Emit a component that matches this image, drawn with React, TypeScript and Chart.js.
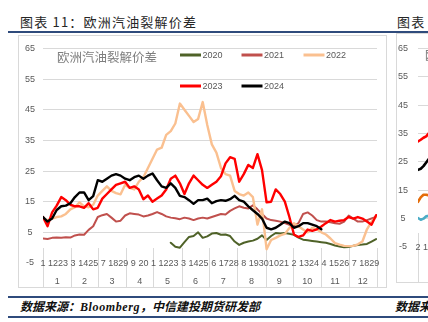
import React, { useEffect, useRef } from 'react';
import { Chart, registerables } from 'chart.js';

Chart.register(...registerables);

// ---------- data (main chart: European gasoline crack spread by year) ----------
// x = day of year (0 = 1 Jan), sampled every 5 days
const DAYS = [
  0, 5, 10, 15, 20, 25, 30, 35, 40, 45,
  50, 55, 60, 65, 70, 75, 80, 85, 90, 95,
  100, 105, 110, 115, 120, 125, 130, 135, 140, 145,
  150, 155, 160, 165, 170, 175, 180, 185, 190, 195,
  200, 205, 210, 215, 220, 225, 230, 235, 240, 245,
  250, 255, 260, 265, 270, 275, 280, 285, 290, 295,
  300, 305, 310, 315, 320, 325, 330, 335, 340, 345,
  350, 355, 360, 365,
];

const S2020 = [
  null, null, null, null, null, null, null, null, null, null,
  null, null, null, null, null, null, null, null, null, null,
  null, null, null, null, null, null, null, null, 1.6, 0.3,
  0.0, 1.8, 3.5, 3.8, 5.0, 3.2, 3.7, 4.6, 4.8, 4.2,
  4.3, 3.8, 2.0, 0.9, 1.6, 2.0, 2.3, 2.9, 4.0, 2.5,
  3.8, 4.8, 4.6, 4.8, 4.5, 4.2, 3.3, 2.6, 2.4, 2.2,
  2.0, 1.8, 1.6, 1.2, 0.7, 0.4, 0.1, 0.2, 0.6, 0.9,
  1.0, 1.2, 2.0, 2.8,
];

const S2021 = [
  3.0, 2.8, 3.2, 3.3, 3.2, 3.4, 3.3, 4.0, 4.3, 4.2,
  5.8, 7.0, 10.0, 10.6, 11.0, 9.8, 8.5, 8.8, 10.5, 11.2,
  11.0, 10.8, 10.2, 10.5, 11.0, 11.6, 11.0, 10.2, 9.8, 9.6,
  9.3, 9.8, 9.5, 9.0, 9.5, 9.8, 9.5, 10.0, 10.5, 11.0,
  10.8, 12.0, 12.8, 13.5, 13.0, 12.8, 13.8, 12.5, 11.0, 9.5,
  9.0, 8.8, 8.5, 8.0, 7.5, 7.2, 8.0, 11.0, 11.5, 10.5,
  9.0, 8.5, 8.5, 8.3, 8.0, 7.8, 8.5, 10.5, 9.5, 8.5,
  8.5, 9.0, 9.5, 10.0,
];

const S2022 = [
  9.5, 9.0, 9.5, 10.0, 10.2, 11.0, 12.5, 13.2, 14.8, 13.5,
  13.2, 14.0, 17.0, 18.5, 20.0, 18.5, 17.8, 17.4, 20.5, 19.5,
  19.0, 21.5, 23.0, 26.0, 29.0, 32.0, 32.6, 36.8, 38.0, 40.5,
  47.0, 45.0, 43.0, 41.0, 42.0, 47.5, 40.0, 33.7, 31.0, 26.0,
  24.0, 23.5, 18.5, 17.5, 17.0, 18.0, 16.5, 7.5, 12.5, -0.5,
  2.5, 3.2, 4.0, 4.5, 6.4, 8.0, 7.0, 5.9, 5.0, 6.5,
  6.0, 5.0, 4.3, 3.0, 1.5, 1.0, 0.6, 0.5, 0.6, 1.1,
  2.0, 6.0, 8.5, 10.0,
];

const S2023 = [
  10.0, 7.0, 11.5, 13.7, 16.5, 15.5, 14.0, 13.5, 13.5, 13.0,
  14.5, 12.5, 13.0, 16.0, 17.5, 19.0, 20.5, 21.0, 21.5, 19.5,
  20.0, 19.0, 15.8, 17.0, 15.0, 16.0, 17.0, 19.0, 22.5, 23.5,
  21.0, 17.5, 21.0, 23.5, 22.0, 20.5, 19.5, 20.5, 21.5, 23.3,
  27.5, 29.5, 29.0, 21.5, 24.0, 27.0, 26.0, 30.5, 25.3, 14.8,
  15.0, 19.0, 17.5, 15.0, 10.0, 4.3, 3.5, 4.0, 5.9, 5.5,
  6.0, 6.9, 8.0, 9.0, 8.5, 8.8, 9.0, 10.0, 9.5, 10.0,
  9.5, 8.5, 7.5, 10.6,
];

const S2024 = [
  10.0, 8.5, 9.5, 12.3, 13.5, 13.7, 14.5, 16.5, 18.0, 18.0,
  15.5, 16.8, 22.0, 21.5, 22.5, 23.5, 24.0, 23.5, 22.5, 22.0,
  23.0, 23.5, 22.5, 23.5, 24.2, 22.0, 20.0, 19.5, 21.0, 19.5,
  16.9, 16.5, 15.5, 14.3, 15.5, 15.5, 16.0, 14.5, 15.2, 15.5,
  15.3, 15.8, 16.9, 15.5, 15.0, 13.5, 12.2, 11.0, 9.5, 6.5,
  6.0, 6.5, 7.5, 8.5, 8.0, 6.5, 7.0, 8.0, 8.0, 7.5,
  7.0, 6.0, null, null, null, null, null, null, null, null,
  null, null, null, null,
];

const SERIES_NAMES = ['2020', '2021', '2022', '2023', '2024'];
const SERIES_COLORS = ['#4F6228', '#C0504D', '#FAC090', '#FF0000', '#000000'];

const Y_TICKS = [-5, 5, 15, 25, 35, 45, 55, 65];
const DAY_TICKS = [
  0, 11, 22, 33, 44, 55, 66, 77, 88, 99,
  110, 121, 132, 143, 154, 165, 176, 187, 198, 209,
  220, 231, 242, 253, 264, 275, 286, 297, 308, 319,
  330, 341, 352, 363,
];
const DAY_LABELS = [
  '1', '12', '23', '3', '14', '25', '7', '18', '29', '9',
  '20', '1', '12', '23', '3', '14', '25', '6', '17', '28',
  '8', '19', '30', '10', '21', '2', '13', '24', '4', '15',
  '26', '7', '18', '29',
];
const MONTHS = ['1', '2', '3', '4', '5', '6', '7', '8', '9', '10', '11', '12'];
const MONTH_STARTS = [0, 31, 60, 91, 121, 152, 182, 213, 244, 274, 305, 335, 366];
const CHART_TITLE = '欧洲汽油裂解价差';

// ---------- data (clipped neighbouring chart on the right) ----------
const FRAG_DAYS = [0, 3, 6, 9, 12, 15];
const FRAG_RED = [32.2, 32.8, 33.5, 34.0, 35.2, 35.5];
const FRAG_BLACK = [22.2, 22.6, 23.5, 24.8, 26.1, 26.5];
const FRAG_ORANGE = [10.9, 12.5, 13.4, 13.4, 13.2, 13.0];
const FRAG_TEAL = [5.2, 4.6, 5.0, 5.8, 6.0, 6.2];
const FRAG_DAY_TICKS = [0, 11];
const FRAG_DAY_LABELS = ['2', '13'];
const FRAG_TITLE = '欧洲柴油裂解价差';

const FONT = "'Liberation Sans', Arial, sans-serif";
const CJK = "'Noto Sans CJK SC', sans-serif";
const GRID = '#D9D9D9';
const TXT = '#595959';

function line(label: string, xs: number[], vals: (number | null)[], color: string, width: number, order: number) {
  return {
    label,
    data: xs.map((d, i) => ({ x: d, y: vals[i] })),
    borderColor: color,
    backgroundColor: color,
    borderWidth: width,
    pointRadius: 0,
    tension: 0,
    fill: false,
    order,
    borderJoinStyle: 'round',
    borderCapStyle: 'round',
  };
}

// draws the x scale's tick labels centred on the bottom edge of the plot (Excel "low" labels)
function drawDayLabels(chart: any, labels: string[]) {
  const { ctx, scales, chartArea } = chart;
  const x = scales.x;
  ctx.save();
  ctx.fillStyle = TXT;
  ctx.font = `9px ${FONT}`;
  ctx.textAlign = 'center';
  ctx.textBaseline = 'middle';
  x.ticks.forEach((t: any, i: number) => {
    ctx.fillText(labels[i], x.getPixelForValue(t.value), chartArea.bottom + 0.5);
  });
  ctx.restore();
}

const mainDeco = {
  id: 'mainDeco',
  beforeDatasetsDraw(chart: any) {
    const { ctx, scales } = chart;
    const x = scales.x;
    const y = scales.y;
    const y0 = Math.round(y.getPixelForValue(0));
    ctx.save();
    ctx.strokeStyle = GRID;
    ctx.lineWidth = 1;
    MONTH_STARTS.forEach((d) => {
      const px = Math.round(x.getPixelForValue(d)) + 0.5;
      ctx.beginPath();
      ctx.moveTo(px, y0);
      ctx.lineTo(px, chart.height);
      ctx.stroke();
    });
    ctx.restore();
    drawDayLabels(chart, DAY_LABELS);
  },
  afterDraw(chart: any) {
    const { ctx, scales } = chart;
    const x = scales.x;
    ctx.save();
    // month labels
    ctx.fillStyle = TXT;
    ctx.font = `9px ${FONT}`;
    ctx.textAlign = 'center';
    ctx.textBaseline = 'middle';
    MONTHS.forEach((m, i) => {
      const cx = (x.getPixelForValue(MONTH_STARTS[i]) + x.getPixelForValue(MONTH_STARTS[i + 1])) / 2;
      ctx.fillText(m, cx, 247);
    });
    // in-chart title
    ctx.fillStyle = '#7F7F7F';
    ctx.font = `12.5px ${CJK}`;
    ctx.textAlign = 'left';
    ctx.fillText(CHART_TITLE, 39, 22.5);
    // legend
    const cols = [162, 223.5, 285.5];
    const rows = [20, 51];
    ctx.font = `9px ${FONT}`;
    chart.data.datasets.forEach((ds: any, i: number) => {
      const cx = cols[i % 3];
      const cy = rows[Math.floor(i / 3)];
      ctx.strokeStyle = ds.borderColor;
      ctx.lineWidth = 3;
      ctx.beginPath();
      ctx.moveTo(cx, cy);
      ctx.lineTo(cx + 21, cy);
      ctx.stroke();
      ctx.fillStyle = TXT;
      ctx.fillText(ds.label, cx + 22.5, cy + 0.5);
    });
    ctx.restore();
  },
};

function mainConfig(): any {
  const sets = [S2020, S2021, S2022, S2023, S2024];
  const widths = [2, 2, 2.4, 2.4, 2.4];
  return {
    type: 'line',
    data: {
      datasets: sets.map((s, i) => line(SERIES_NAMES[i], DAYS, s, SERIES_COLORS[i], widths[i], 4 - i)),
    },
    options: {
      responsive: false,
      animation: false,
      devicePixelRatio: 1,
      layout: { padding: { left: 0, right: 10, top: 6, bottom: 0 } },
      plugins: { legend: { display: false }, tooltip: { enabled: false }, title: { display: false } },
      scales: {
        x: {
          type: 'linear',
          min: 0,
          max: 366,
          afterBuildTicks: (s: any) => { s.ticks = DAY_TICKS.map((v) => ({ value: v })); },
          ticks: { display: false, autoSkip: false },
          grid: { display: false, drawTicks: false },
          border: { display: false },
          afterFit: (s: any) => { s.height = 25; },
        },
        y: {
          min: -5,
          max: 65,
          afterBuildTicks: (s: any) => { s.ticks = Y_TICKS.map((v) => ({ value: v })); },
          ticks: {
            padding: 8,
            crossAlign: 'center',
            color: TXT,
            font: { family: FONT, size: 9 },
          },
          grid: {
            color: (c: any) => (c.tick && c.tick.value === -5 ? 'rgba(0,0,0,0)' : GRID),
            drawTicks: false,
            lineWidth: 1,
          },
          border: { display: false },
          afterFit: (s: any) => { s.width = 25; },
        },
      },
    },
    plugins: [mainDeco],
  };
}

const fragDeco = {
  id: 'fragDeco',
  beforeDatasetsDraw(chart: any) {
    const { ctx, scales } = chart;
    const y0 = Math.round(scales.y.getPixelForValue(0));
    const px = Math.round(scales.x.getPixelForValue(0)) + 0.5;
    ctx.save();
    ctx.strokeStyle = GRID;
    ctx.lineWidth = 1;
    ctx.beginPath();
    ctx.moveTo(px, y0);
    ctx.lineTo(px, chart.height);
    ctx.stroke();
    ctx.fillStyle = '#7F7F7F';
    ctx.font = `12.5px ${CJK}`;
    ctx.textBaseline = 'middle';
    ctx.fillText(FRAG_TITLE, 29, 22);
    ctx.restore();
    drawDayLabels(chart, FRAG_DAY_LABELS);
  },
};

function fragConfig(): any {
  return {
    type: 'line',
    data: {
      datasets: [
        line('a', FRAG_DAYS, FRAG_RED, '#FF0000', 2.6, 0),
        line('b', FRAG_DAYS, FRAG_BLACK, '#000000', 2.6, 1),
        line('c', FRAG_DAYS, FRAG_ORANGE, '#E46C0A', 2.6, 2),
        line('d', FRAG_DAYS, FRAG_TEAL, '#4BACC6', 2.6, 3),
      ],
    },
    options: {
      responsive: false,
      animation: false,
      devicePixelRatio: 1,
      layout: { padding: { left: 0, right: 24, top: 7, bottom: 0 } },
      plugins: { legend: { display: false }, tooltip: { enabled: false } },
      scales: {
        x: {
          type: 'linear',
          min: 0,
          max: 366,
          afterBuildTicks: (s: any) => { s.ticks = FRAG_DAY_TICKS.map((v) => ({ value: v })); },
          ticks: { display: false, autoSkip: false },
          grid: { display: false, drawTicks: false },
          border: { display: false },
          afterFit: (s: any) => { s.height = 36; },
        },
        y: {
          min: -5,
          max: 65,
          afterBuildTicks: (s: any) => { s.ticks = Y_TICKS.map((v) => ({ value: v })); },
          ticks: { padding: 10, crossAlign: 'center', color: TXT, font: { family: FONT, size: 9 } },
          grid: {
            color: (c: any) => (c.tick && c.tick.value === -5 ? 'rgba(0,0,0,0)' : GRID),
            drawTicks: false,
          },
          border: { display: false },
          afterFit: (s: any) => { s.width = 22; },
        },
      },
    },
    plugins: [fragDeco],
  };
}

export default function App() {
  const mainRef = useRef<HTMLCanvasElement>(null);
  const fragRef = useRef<HTMLCanvasElement>(null);

  useEffect(() => {
    const c1 = new Chart(mainRef.current as HTMLCanvasElement, mainConfig());
    const c2 = new Chart(fragRef.current as HTMLCanvasElement, fragConfig());
    return () => {
      c1.destroy();
      c2.destroy();
    };
  }, []);

  const heading: React.CSSProperties = {
    position: 'absolute',
    top: 13,
    fontFamily: CJK,
    fontSize: 13,
    letterSpacing: 1.2,
    lineHeight: '18px',
    color: '#262626',
    whiteSpace: 'nowrap',
  };
  const source: React.CSSProperties = {
    position: 'absolute',
    top: 298,
    fontFamily: `'Liberation Serif', ${CJK}`,
    fontStyle: 'italic',
    fontWeight: 700,
    fontSize: 12,
    lineHeight: '18px',
    color: '#111',
    whiteSpace: 'nowrap',
  };
  const rule = (top: number): React.CSSProperties => ({
    position: 'absolute', left: 8, top, width: 420, height: 2, background: '#2F4B7C',
  });

  return (
    <div style={{ position: 'fixed', left: 0, top: 0, width: 428, height: 322, overflow: 'hidden', background: '#fff' }}>
      <div style={{ ...heading, left: 20 }}>图表 11：欧洲汽油裂解价差</div>
      <div style={{ ...heading, left: 397 }}>图表 12：欧洲柴油裂解价差</div>
      <div style={rule(31)} />
      <div style={{ position: 'absolute', left: 18, top: 35, width: 369, height: 253, border: `1px solid ${GRID}`, boxSizing: 'border-box' }} />
      <div style={{ position: 'absolute', left: 396, top: 33, width: 380, height: 250, border: `1px solid ${GRID}`, boxSizing: 'border-box' }} />
      <canvas ref={mainRef} width={369} height={253} style={{ position: 'absolute', left: 18, top: 35 }} />
      <canvas ref={fragRef} width={380} height={250} style={{ position: 'absolute', left: 396, top: 33 }} />
      <div style={rule(296)} />
      <div style={{ ...source, left: 20 }}>数据来源：<span style={{ letterSpacing: 0.6 }}>Bloomberg</span>，中信建投期货研发部</div>
      <div style={{ ...source, left: 395 }}>数据来源：Bloomberg，中信建投期货研发部</div>
      <div style={rule(316)} />
    </div>
  );
}
